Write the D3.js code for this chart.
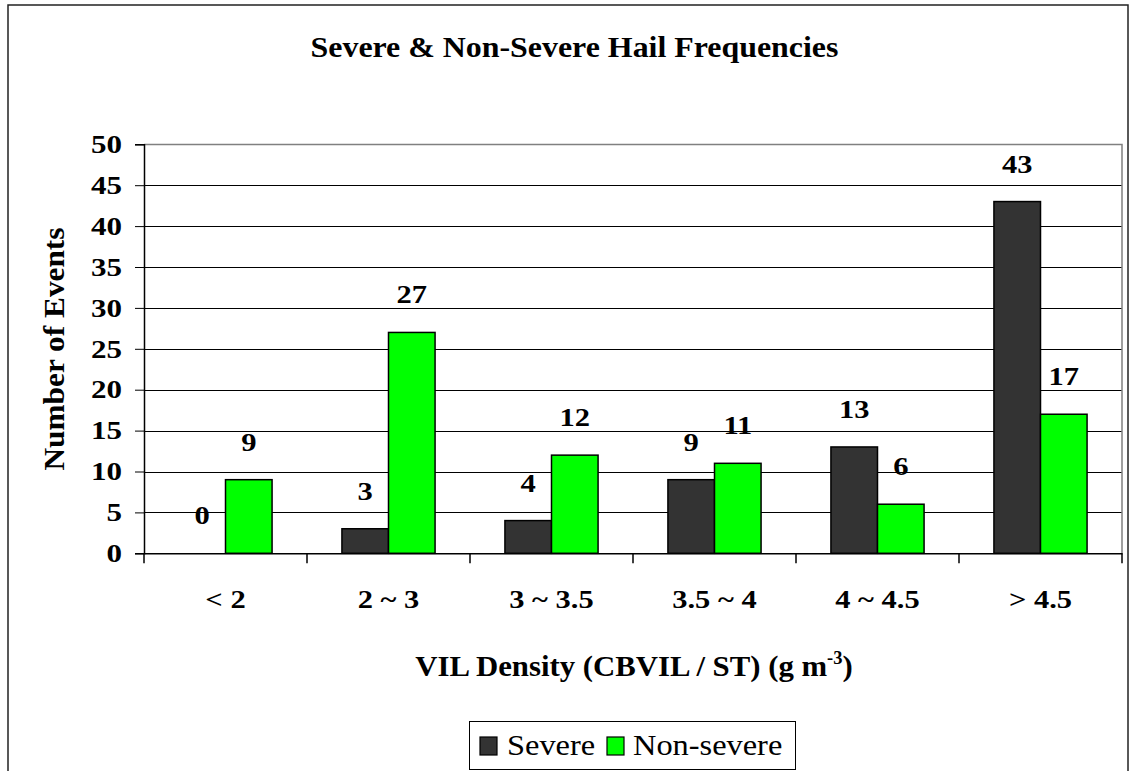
<!DOCTYPE html>
<html>
<head>
<meta charset="utf-8">
<script src="https://cdn.jsdelivr.net/npm/d3@7"></script>
<style>
  html, body { margin: 0; padding: 0; background: #fff; }
  svg { display: block; }
  text { font-family: "Liberation Serif", "Times New Roman", serif; fill: #000; }
</style>
</head>
<body>
<svg id="chart" width="1130" height="771"></svg>
<script>
// ---- data ----
const categories = ["< 2", "2 ~ 3", "3 ~ 3.5", "3.5 ~ 4", "4 ~ 4.5", "> 4.5"];
const seriesNames = ["Severe", "Non-severe"];
const severeValues = [0, 3, 4, 9, 13, 43];
const nonSevereValues = [9, 27, 12, 11, 6, 17];
const yTicks = [0, 5, 10, 15, 20, 25, 30, 35, 40, 45, 50];
const seriesColors = ["#333333", "#00ff00"];

const titleText = "Severe & Non-Severe Hail Frequencies";
const yTitleText = "Number of Events";

// widen glyphs horizontally (reference font is a broad Palatino-like face)
function stretch(sel, k) {
  sel.each(function () {
    const w = this.getComputedTextLength();
    this.setAttribute("textLength", (w * k).toFixed(1));
    this.setAttribute("lengthAdjust", "spacingAndGlyphs");
  });
}

// ---- layout ----
const svg = d3.select("#chart");
const plot = { left: 144, right: 1122, top: 144.3, bottom: 553.3 };

const x = d3.scaleBand().domain(categories).range([plot.left, plot.right]).paddingInner(0).paddingOuter(0);
// Excel gap width 150%: two bars each 1/(2+1.5) of band
const barW = x.bandwidth() / 3.5;
const xs = d3.scaleBand().domain(seriesNames).range([0, barW * 2]);
const y = d3.scaleLinear().domain([0, 50]).range([plot.bottom, plot.top]);

// outer frame
svg.append("rect").attr("x", 8).attr("y", 5).attr("width", 1120).attr("height", 800)
  .attr("fill", "none").attr("stroke", "#222").attr("stroke-width", 1.5);

// title
svg.append("text").attr("x", 574.5).attr("y", 57).attr("text-anchor", "middle")
  .attr("font-size", 30).attr("font-weight", "bold").text(titleText)
  .call(stretch, 1.063);

// gridlines
svg.append("g").selectAll("line").data(yTicks.filter(d => d > 0 && d < 50)).join("line")
  .attr("x1", plot.left).attr("x2", plot.right)
  .attr("y1", d => Math.round(y(d)) + 0.5).attr("y2", d => Math.round(y(d)) + 0.5)
  .attr("stroke", "#000").attr("stroke-width", 1);

// plot-area border (top & right, grey)
svg.append("path")
  .attr("d", `M${plot.left},${Math.round(plot.top)+0.5}H${plot.right}V${plot.bottom}`)
  .attr("fill", "none").attr("stroke", "#808080").attr("stroke-width", 1.5);

// bars
const data = categories.map((c, i) => ({ cat: c, vals: [severeValues[i], nonSevereValues[i]] }));
const groups = svg.append("g").selectAll("g").data(data).join("g")
  .attr("transform", d => `translate(${x(d.cat) + (x.bandwidth() - barW * 2) / 2},0)`);

groups.selectAll("rect").data(d => d.vals.map((v, j) => ({ v, s: seriesNames[j], j }))).join("rect")
  .filter(d => d.v > 0)
  .attr("x", d => xs(d.s)).attr("width", xs.bandwidth())
  .attr("y", d => y(d.v)).attr("height", d => y(0) - y(d.v))
  .attr("fill", d => seriesColors[d.j]).attr("stroke", "#000").attr("stroke-width", 1.5);

// data labels
groups.selectAll("text").data(d => d.vals.map((v, j) => ({ v, s: seriesNames[j] }))).join("text")
  .attr("x", d => xs(d.s) + xs.bandwidth() / 2)
  .attr("y", d => y(d.v) - 29)
  .attr("text-anchor", "middle").attr("font-size", 25).attr("font-weight", "bold")
  .text(d => d.v)
  .call(stretch, 1.22);

// y axis
const yAxis = svg.append("g").attr("transform", `translate(${plot.left},0)`)
  .call(d3.axisLeft(y).tickValues(yTicks).tickSize(9).tickPadding(13));
yAxis.select(".domain").attr("stroke", "#000").attr("stroke-width", 1.5);
yAxis.selectAll(".tick line").attr("stroke", "#000");
yAxis.selectAll(".tick text").attr("font-size", 25).attr("font-weight", "bold")
  .attr("font-family", "Liberation Serif").attr("fill", "#000").attr("dy", "0.33em")
  .call(stretch, 1.24);

// x axis
const xAxis = svg.append("g").attr("transform", `translate(0,${plot.bottom})`)
  .call(d3.axisBottom(x).tickSize(0).tickPadding(37));
xAxis.select(".domain").attr("stroke", "#000").attr("stroke-width", 1.5);
xAxis.selectAll(".tick text").attr("font-size", 25).attr("font-weight", "bold")
  .attr("font-family", "Liberation Serif").attr("fill", "#000")
  .call(stretch, 1.22);
// category boundary tick marks
const bounds = categories.map(c => x(c)).concat([x(categories[categories.length - 1]) + x.bandwidth()]);
xAxis.append("g").selectAll("line").data(bounds).join("line")
  .attr("x1", d => d).attr("x2", d => d).attr("y1", 0).attr("y2", 10)
  .attr("stroke", "#000").attr("stroke-width", 1.5);

// y title
svg.append("text").attr("transform", "translate(64,349) rotate(-90)")
  .attr("text-anchor", "middle").attr("font-size", 29).attr("font-weight", "bold")
  .text(yTitleText)
  .call(stretch, 1.08);

// x title with superscript
const xt = svg.append("text").attr("x", 634).attr("y", 676).attr("text-anchor", "middle")
  .attr("font-size", 30).attr("font-weight", "bold");
xt.append("tspan").text("VIL Density (CBVIL / ST) (g m");
xt.append("tspan").attr("font-size", 18).attr("dy", -12).text("-3");
xt.append("tspan").attr("dy", 12).text(")");
stretch(xt, 1.025);

// legend
const lg = svg.append("g");
lg.append("rect").attr("x", 469.5).attr("y", 721.5).attr("width", 326).attr("height", 48)
  .attr("fill", "#fff").attr("stroke", "#000").attr("stroke-width", 1);
const legendX = [480, 607];
const li = lg.selectAll("g").data(seriesNames).join("g")
  .attr("transform", (d, i) => `translate(${legendX[i]},737)`);
li.append("rect").attr("width", 17).attr("height", 18)
  .attr("fill", (d, i) => seriesColors[i]).attr("stroke", "#000").attr("stroke-width", 1.2);
li.append("text").attr("x", (d, i) => i === 0 ? 27 : 26).attr("y", 18).attr("font-size", 30).text(d => d)
  .call(stretch, 1.08);
</script>
</body>
</html>
